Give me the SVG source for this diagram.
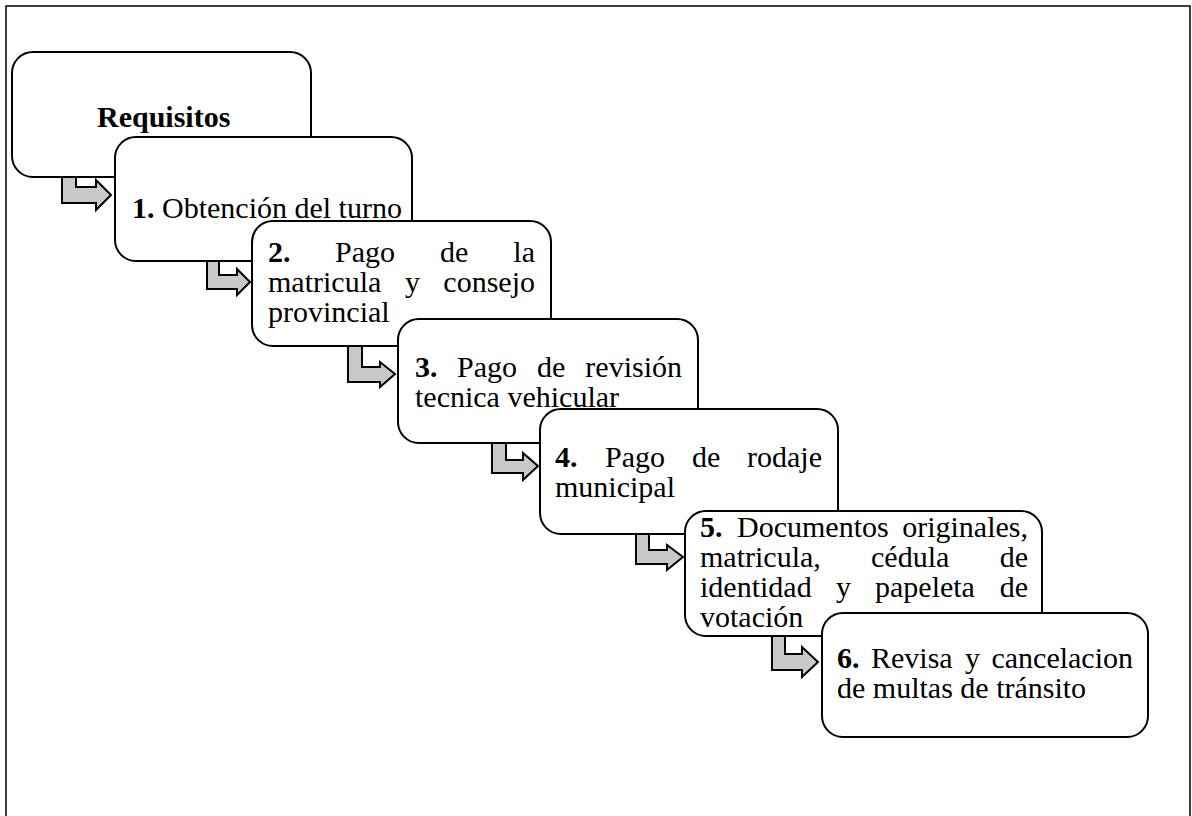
<svg xmlns="http://www.w3.org/2000/svg" width="1192" height="816" viewBox="0 0 1192 816">
<style>
.frame{fill:#fff;stroke:#000;stroke-width:1.5}
.box{fill:#fff;stroke:#000;stroke-width:2}
.arr{fill:#c8c8c8;stroke:#000;stroke-width:2;stroke-linejoin:miter}
text{font-family:"Liberation Serif","Times New Roman",serif;font-size:30px;fill:#000}
.b{font-weight:bold}
.e{text-anchor:end}
</style>
<rect class="frame" x="6" y="6" width="1184" height="830"/>
<g id="connectors">
<polygon class="arr" points="62,167 76,167 76,187 96,187 96,180 111,195 96,210 96,203 62,203"/>
<polygon class="arr" points="207,251 219,251 219,275 237,275 237,269 250,282 237,295 237,289 207,289"/>
<polygon class="arr" points="348,336 362,336 362,367 380,367 380,362 395,374 380,387 380,382 348,382"/>
<polygon class="arr" points="492,433 506,433 506,460 523,460 523,453 538,466 523,480 523,473 492,473"/>
<polygon class="arr" points="636,524 649,524 649,550 667,550 667,545 683,557 667,570 667,564 636,564"/>
<polygon class="arr" points="772,626 785,626 785,654 802,654 802,647 818,662 802,677 802,670 772,670"/>
</g>
<g id="requisitos">
<rect class="box" x="12" y="52" width="299" height="125" rx="21"/>
<text class="b" x="97" y="127">Requisitos</text>
</g>
<g id="step1">
<rect class="box" x="115" y="137" width="297" height="124" rx="21"/>
<text x="132" y="218"><tspan class="b">1.</tspan> Obtención del turno</text>
</g>
<g id="step2">
<rect class="box" x="252" y="221" width="299" height="125" rx="21"/>
<text x="268" y="262" class="b">2.</text>
<text x="335" y="262">Pago</text>
<text x="440" y="262">de</text>
<text x="535" y="262" class="e">la</text>
<text x="268" y="292">matricula</text>
<text x="405" y="292">y</text>
<text x="535" y="292" class="e">consejo</text>
<text x="268" y="322">provincial</text>
</g>
<g id="step3">
<rect class="box" x="398" y="319" width="300" height="124" rx="21"/>
<text x="415" y="377" class="b">3.</text>
<text x="457" y="377">Pago</text>
<text x="537" y="377">de</text>
<text x="682" y="377" class="e">revisión</text>
<text x="415" y="407">tecnica vehicular</text>
</g>
<g id="step4">
<rect class="box" x="540" y="409" width="298" height="125" rx="21"/>
<text x="555" y="467" class="b">4.</text>
<text x="605" y="467">Pago</text>
<text x="692" y="467">de</text>
<text x="822" y="467" class="e">rodaje</text>
<text x="555" y="497">municipal</text>
</g>
<g id="step5">
<rect class="box" x="685" y="511" width="357" height="125" rx="21"/>
<text x="700" y="537" class="b">5.</text>
<text x="737" y="537">Documentos</text>
<text x="1028" y="537" class="e">originales,</text>
<text x="700" y="567">matricula,</text>
<text x="871" y="567">cédula</text>
<text x="1028" y="567" class="e">de</text>
<text x="700" y="597">identidad</text>
<text x="836" y="597">y</text>
<text x="875" y="597">papeleta</text>
<text x="1028" y="597" class="e">de</text>
<text x="700" y="627">votación</text>
</g>
<g id="step6">
<rect class="box" x="822" y="613" width="326" height="124" rx="21"/>
<text x="837" y="668" class="b">6.</text>
<text x="871" y="668">Revisa</text>
<text x="965" y="668">y</text>
<text x="1133" y="668" class="e">cancelacion</text>
<text x="837" y="698">de multas de tránsito</text>
</g>
</svg>
